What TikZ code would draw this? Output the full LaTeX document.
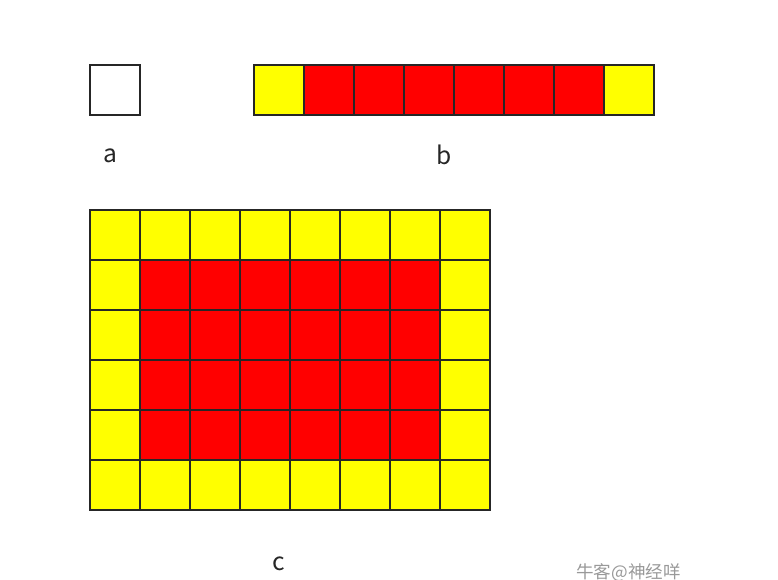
\documentclass[tikz,border=0pt]{standalone}
\usepackage{fontspec}
\newfontfamily\cjk{Noto Sans CJK SC}
\usetikzlibrary{positioning}
\definecolor{cellyellow}{RGB}{255,255,0}
\definecolor{cellred}{RGB}{255,0,0}

\begin{document}
\begin{tikzpicture}[
  x={(0.02cm,0cm)},
  y={(0cm,-0.02cm)},
  cell/.style={draw=black!85, line width=0.6pt},
  yelcell/.style={cell, fill=cellyellow},
  redcell/.style={cell, fill=cellred},
  lbl/.style={font=\cjk\fontsize{14}{16}\selectfont, text=black!85, inner sep=0pt},
  wmark/.style={font=\cjk\fontsize{10}{12}\selectfont, text=black!40, inner sep=0pt}
]
\useasboundingbox (0,0) rectangle (778,580);

% a
\draw[cell, fill=white] (90,65) rectangle ++(50,50);
\node[lbl] (la) at (110,156) {a};

% b
\draw[yelcell] (254,65) rectangle ++(50,50);
\foreach \i in {1,...,6}
  \draw[redcell] ({254+50*\i},65) rectangle ++(50,50);
\draw[yelcell] (604,65) rectangle ++(50,50);
\node[lbl] (lb) at (444,155) {b};

% c
\foreach \r in {0,...,5}
  \foreach \c in {0,...,7}
    \draw[yelcell] ({90+50*\c},{210+50*\r}) rectangle ++(50,50);
\foreach \r in {1,...,4}
  \foreach \c in {1,...,6}
    \draw[redcell] ({90+50*\c},{210+50*\r}) rectangle ++(50,50);
\node[lbl] (lc) at (279,564) {c};

\node[wmark, anchor=west] (wm) at (576,573) {牛客@神经咩};
\end{tikzpicture}
\end{document}
